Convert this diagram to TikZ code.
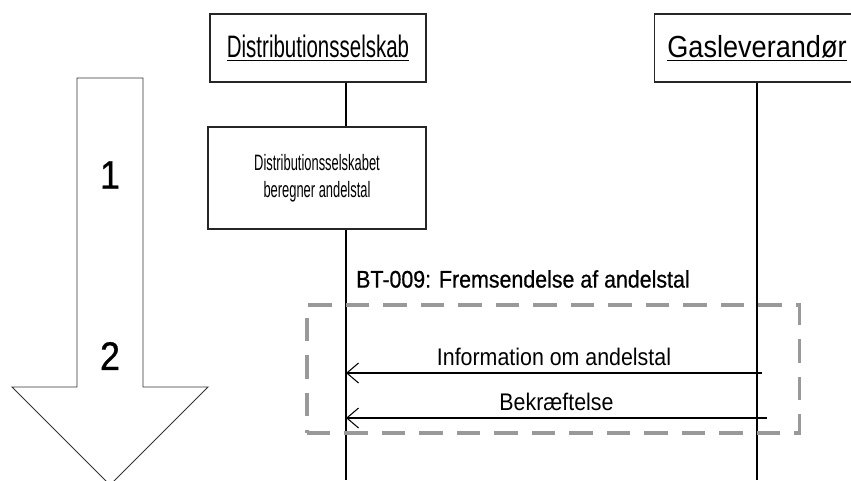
\documentclass[tikz,border=0pt]{standalone}
\usepackage{fontspec}
\setmainfont{Liberation Sans}[FakeStretch=0.89]
\newfontfamily\distfont{Liberation Sans}[FakeStretch=0.66]
\newfontfamily\calcfont{Liberation Sans}[FakeStretch=0.58]
\newfontfamily\btfont{Liberation Sans}[FakeStretch=0.89, FakeBold=0.6]
\newfontfamily\numfont{Liberation Sans}[FakeStretch=0.9, FakeBold=0.8]
\usepackage{tikz}
\usetikzlibrary{arrows.meta}

\tikzset{
  actor/.style={rectangle, draw=black!85, line width=0.9pt, minimum height=2.04cm},
  lifeline/.style={line width=1.1pt},
  msg/.style={line width=1.1pt, -{Straight Barb[length=10pt, width=17pt, line width=0.9pt]}},
  msglabel/.style={above, inner sep=6pt, font=\fontsize{20.5}{23}\selectfont},
  stepnum/.style={font=\numfont\fontsize{34}{36}\selectfont},
  grpbox/.style={draw=black!40, line width=2.6pt, dash pattern=on 20pt off 12pt}
}

\begin{document}
\begin{tikzpicture}[x=0.03cm, y=-0.03cm]
\useasboundingbox (0,0) rectangle (851,480);

% big step arrow
\draw[black!80, line width=0.8pt] (77,78) -- (143,78) -- (143,387) -- (208,387) -- (110,485)
  -- (12,387) -- (77,387) -- cycle;
\node (s1) at (110,175) [stepnum] {1};
\node (s2) at (110,356) [stepnum] {2};

% actors
\node (ds) at (318,48) [actor, minimum width=6.48cm, font=\distfont\fontsize{26.5}{29}\selectfont]
  {\underline{Distributionsselskab}};
\node (gl) at (757,48) [actor, minimum width=6.15cm, font=\fontsize{26}{28}\selectfont]
  {\underline{Gasleverandør}};

\coordinate (dsend) at (346,480);
\coordinate (glend) at (757,480);

\node (calc) at (317,178) [rectangle, draw=black!85, line width=0.9pt, minimum width=6.54cm,
  minimum height=3.06cm, align=center, font=\calcfont\fontsize{19}{23}\selectfont]
  {Distributionsselskabet\\beregner andelstal};

\draw[lifeline] (ds.south -| dsend) -- (calc.north -| dsend);
\draw[lifeline] (calc.south -| dsend) -- (dsend);
\draw[lifeline] (gl.south) -- (glend);

% BT-009
\node (bt) at (356,279) [anchor=west, inner sep=0pt, font=\btfont\fontsize{20.5}{23}\selectfont]
  {BT-009: Fremsendelse af andelstal};
\node (grp) at (553,369) [grpbox, minimum width=14.76cm, minimum height=3.84cm] {};

\coordinate (m1) at (762,373);
\coordinate (m2) at (767,418);
\draw[msg] (m1) -- node[msglabel] {Information om andelstal} (m1 -| dsend);
\draw[msg] (m2) -- node[msglabel] {Bekræftelse} (m2 -| dsend);

\end{tikzpicture}
\end{document}
